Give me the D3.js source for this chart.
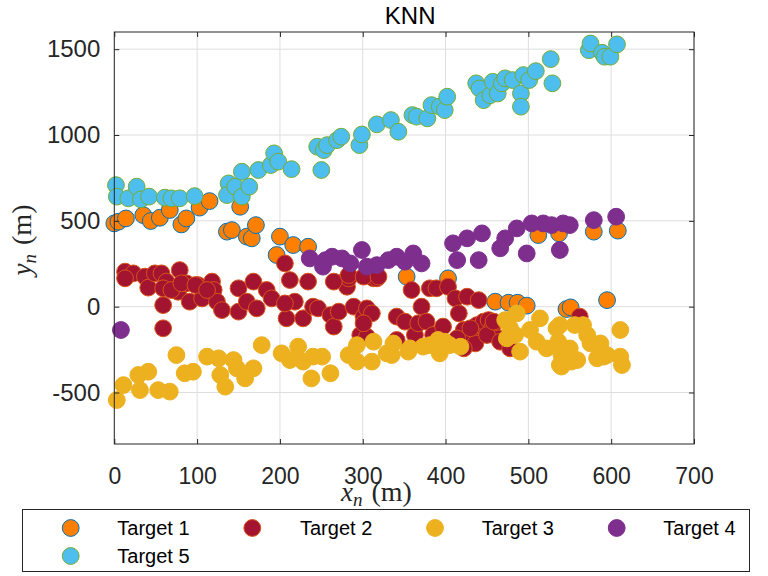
<!DOCTYPE html>
<html><head><meta charset="utf-8">
<script src="https://cdn.jsdelivr.net/npm/d3@7"></script>
<style>body{margin:0;background:#fff}svg{display:block}</style>
</head><body>
<svg id="c" width="768" height="576"></svg>
<script>
const seriesNames = ["Target 1","Target 2","Target 3","Target 4","Target 5"];
const xTicks = [0,100,200,300,400,500,600,700];
const yTicks = [-500,0,500,1000,1500];

const t1x = [0,5,14,35,44,55,67,81,87,103,115,152,136,142,160,166,171,200,216,234,196,353,403,460,476,487,498,546,551,595,512,537,579,608];
const t1y = [485,495,514,533,499,518,563,479,514,577,615,582,437,446,408,398,475,408,359,349,301,175,165,29,23,23,6,-14,-4,38,417,427,437,443];

const t2x = [13,23,13,37,41,49,57,63,59,59,59,79,77,87,91,101,106,118,120,124,130,150,150,168,160,172,184,190,206,212,208,218,228,240,246,261,265,271,277,281,289,301,305,311,297,313,305,341,234,283,301,317,351,359,363,371,367,377,381,389,385,397,403,412,416,426,440,422,430,438,446,436,452,456,464,450,422,458,466,478,562,265,283,301,319,341,414,430,69,81,98,112,206];
const t2y = [204,194,165,175,111,194,194,146,107,9,-126,213,87,136,29,126,48,146,97,29,-20,107,-29,146,29,-10,97,48,252,155,-68,29,-68,0,-10,-49,-116,-29,146,116,0,-58,-10,-39,-165,165,-175,-58,146,165,-97,165,-87,97,-165,0,-97,-87,107,107,-165,-116,116,48,-39,58,38,-136,-165,-107,-87,-214,-78,-126,-185,-165,-243,-87,-204,-243,-58,146,184,175,175,-194,-185,-126,97,136,126,97,19];

const t3x = [3,11,31,29,41,53,67,75,85,95,112,126,128,134,144,148,158,168,178,202,212,222,228,240,251,238,261,283,293,293,311,313,329,337,335,355,373,381,393,399,418,405,472,478,474,486,490,502,514,510,522,534,536,538,550,556,566,559,575,587,591,611,611,613,484,538,540,540,552,571,595,583,357,391];
const t3y = [-544,-457,-486,-398,-379,-486,-495,-282,-388,-379,-291,-301,-398,-466,-311,-359,-418,-359,-224,-272,-311,-233,-320,-291,-291,-418,-388,-282,-320,-224,-320,-204,-272,-214,-282,-262,-233,-224,-272,-204,-233,-224,-78,-126,-185,-39,-262,-136,-68,-204,-243,-126,-204,-340,-243,-107,-107,-311,-214,-214,-291,-136,-291,-340,-165,-107,-282,-349,-320,-165,-282,-301,-243,-194];

const t4x = [8,236,252,263,275,285,299,305,317,331,341,351,361,371,409,426,444,414,440,466,472,486,504,518,528,542,550,498,538,579,606,255];
const t4y = [-136,281,233,291,281,252,330,233,242,271,291,262,310,252,369,398,427,271,271,340,398,456,485,485,475,485,475,310,330,504,524,271];

const t5x = [2,3,17,27,32,42,61,69,79,97,138,136,146,154,154,163,174,189,193,198,214,245,250,253,257,269,274,296,299,317,334,343,360,365,378,383,393,399,402,437,441,446,454,457,463,468,472,481,491,491,494,501,509,527,529,573,575,589,592,599,607];
const t5y = [708,641,631,699,625,641,635,631,631,644,718,650,699,786,641,699,796,825,893,845,801,932,796,912,941,970,990,941,1003,1062,1087,1019,1116,1107,1097,1174,1165,1145,1223,1301,1271,1203,1232,1310,1242,1301,1330,1320,1242,1165,1349,1320,1372,1442,1301,1494,1533,1479,1456,1456,1528];

const fills = ["#FF8000","#A2142F","#EDB120","#7E2F8E","#4DBEEE"];
const edges = ["#0072BD","#D95319","#EDB120","#7E2F8E","#77AC30"];
const xs = [t1x,t2x,t3x,t4x,t5x], ys = [t1y,t2y,t3y,t4y,t5y];
const series = seriesNames.map((n,i)=>({name:n, pts: xs[i].map((x,j)=>({x, y: ys[i][j]}))}));

const L=114.3, R=694, T=32, B=444;
const x = d3.scaleLinear().domain([0,700]).range([L,R]);
const y = d3.scaleLinear().domain([-800,1600]).range([B,T]);
const svg = d3.select("#c");
const axc = "#262626";
const F = "'Liberation Sans', Arial, Helvetica, sans-serif";
const fmt = d => String(d);

// grid
const g = svg.append("g");
g.selectAll(".gx").data(xTicks).join("line").attr("x1",d=>x(d)).attr("x2",d=>x(d)).attr("y1",T).attr("y2",B).attr("stroke","#dedede").attr("stroke-width",1);
g.selectAll(".gy").data(yTicks).join("line").attr("y1",d=>y(d)).attr("y2",d=>y(d)).attr("x1",L).attr("x2",R).attr("stroke","#dedede").attr("stroke-width",1);

// points
const r = 8.4;
series.forEach((s,i)=>{
  svg.append("g").selectAll("circle").data(s.pts).join("circle")
    .attr("cx",d=>x(d.x)).attr("cy",d=>y(d.y)).attr("r",r)
    .attr("fill",fills[i]).attr("stroke",edges[i]).attr("stroke-width",1);
});

// axes
function styleAxis(sel){ sel.select(".domain").remove(); sel.selectAll("line").attr("stroke",axc); sel.selectAll("text").attr("fill",axc).attr("font-family",F); }
svg.append("g").attr("transform",`translate(0,${B})`).call(d3.axisBottom(x).tickValues(xTicks).tickSize(-5).tickPadding(24).tickFormat(fmt)).call(styleAxis).selectAll("text").attr("font-size",23);
svg.append("g").attr("transform",`translate(0,${T})`).call(d3.axisTop(x).tickValues(xTicks).tickSize(-5).tickFormat("")).call(styleAxis);
svg.append("g").attr("transform",`translate(${L},0)`).call(d3.axisLeft(y).tickValues(yTicks).tickSize(-5).tickPadding(14).tickFormat(fmt)).call(styleAxis).selectAll("text").attr("font-size",24);
svg.append("g").attr("transform",`translate(${R},0)`).call(d3.axisRight(y).tickValues(yTicks).tickSize(-5).tickFormat("")).call(styleAxis);
svg.append("rect").attr("x",L).attr("y",T).attr("width",R-L).attr("height",B-T).attr("fill","none").attr("stroke",axc).attr("stroke-width",1);

// title
svg.append("text").attr("x",(L+R)/2+6).attr("y",24).attr("text-anchor","middle").attr("font-family",F).attr("font-size",24).attr("fill","#000").text("KNN");

// labels
const SF = "'Liberation Serif','DejaVu Serif',serif";
const xl = svg.append("text").attr("x",341).attr("y",501).attr("font-family",SF).attr("font-size",27).attr("fill",axc);
xl.append("tspan").attr("font-style","italic").text("x");
xl.append("tspan").attr("font-style","italic").attr("font-size",19).attr("dy",5).text("n");
xl.append("tspan").attr("dy",-5).attr("dx",9).attr("font-size",28).text("(m)");
const yl = svg.append("text").attr("transform","translate(31,240) rotate(-90)").attr("text-anchor","middle").attr("font-family",SF).attr("font-size",27).attr("fill",axc);
yl.append("tspan").attr("font-style","italic").text("y");
yl.append("tspan").attr("font-style","italic").attr("font-size",19).attr("dy",5).text("n");
yl.append("tspan").attr("dy",-5).attr("dx",9).attr("font-size",28).text("(m)");

// legend
const lg = svg.append("g");
lg.append("rect").attr("x",22.5).attr("y",509.5).attr("width",727).attr("height",62).attr("fill","#fff").attr("stroke",axc).attr("stroke-width",1);
const lmx = [70.7,252.3,435,616.7,70.7], ltx=[117.3,300,481.7,663.3,117.3], lry=[528,528,528,528,556];
seriesNames.forEach((n,i)=>{
  lg.append("circle").attr("cx",lmx[i]).attr("cy",lry[i]).attr("r",r).attr("fill",fills[i]).attr("stroke",edges[i]).attr("stroke-width",1);
  lg.append("text").attr("x",ltx[i]).attr("y",lry[i]+7).attr("font-family",F).attr("font-size",20).attr("fill","#000").text(n);
});
</script>
</body></html>
